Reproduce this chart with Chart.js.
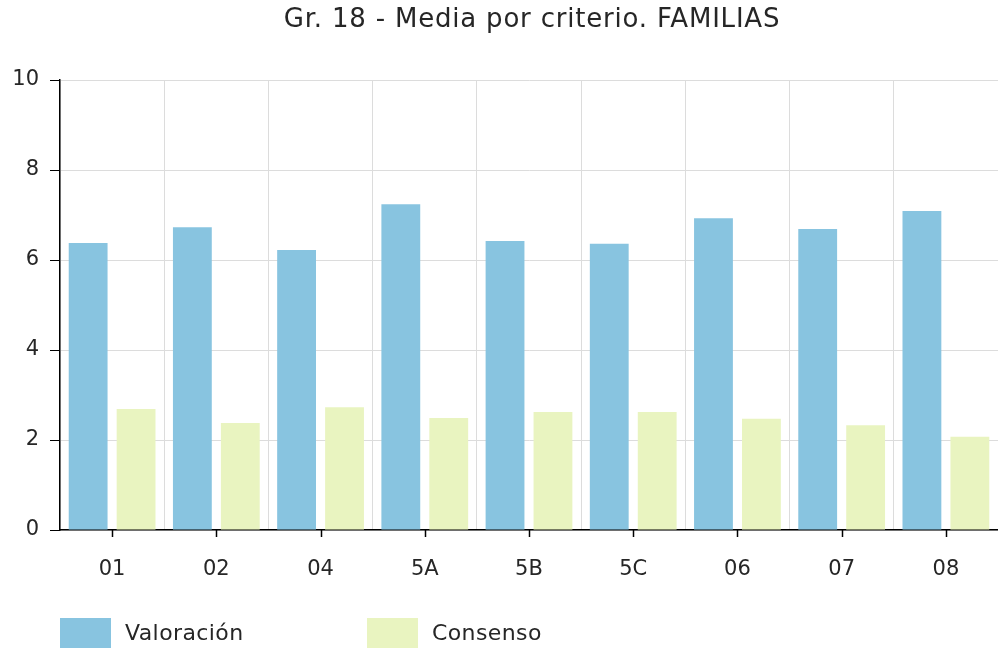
<!DOCTYPE html>
<html>
<head>
<meta charset="utf-8">
<script src="https://cdn.jsdelivr.net/npm/chart.js@4"></script>
<style>
  html, body { margin: 0; padding: 0; background: #fff; }
  #wrap { width: 998px; height: 648px; }
</style>
</head>
<body>
<div id="wrap"><canvas id="myChart" width="998" height="648"></canvas></div>
<script>
const chartTitle = "Gr. 18 - Media por criterio. FAMILIAS";
const criterios = ["01", "02", "04", "5A", "5B", "5C", "06", "07", "08"];
const valoracion = [6.38, 6.73, 6.22, 7.24, 6.42, 6.36, 6.93, 6.69, 7.09];
const consenso = [2.69, 2.38, 2.73, 2.49, 2.62, 2.62, 2.47, 2.33, 2.07];
const seriesNames = ["Valoración", "Consenso"];
const seriesColors = ["#88c4e0", "#e9f4c0"];

const FONT = "'DejaVu Sans'";
const TEXT = "#262626";

// title, x tick marks and legend drawn by hand
const decor = {
  id: "decor",
  afterDraw(chart) {
    const ctx = chart.ctx;
    const area = chart.chartArea;
    const x = chart.scales.x;
    ctx.save();

    ctx.fillStyle = TEXT;
    ctx.font = "26px " + FONT;
    ctx.letterSpacing = "0.8px";
    ctx.textAlign = "center";
    ctx.textBaseline = "middle";
    ctx.fillText(chartTitle, (area.left + area.right) / 2 + 3, 20);

    ctx.strokeStyle = "#000";
    ctx.lineWidth = 1.5;
    criterios.forEach((c, i) => {
      const px = Math.round(x.getPixelForValue(i)) + 0.5;
      ctx.beginPath();
      ctx.moveTo(px, area.bottom);
      ctx.lineTo(px, area.bottom + 7);
      ctx.stroke();
    });

    ctx.textAlign = "left";
    ctx.font = "22px " + FONT;
    ctx.letterSpacing = "0.4px";
    seriesNames.forEach((name, i) => {
      const lx = area.left + i * 307;
      ctx.fillStyle = seriesColors[i];
      ctx.fillRect(lx, 618, 51, 30);
      ctx.fillStyle = TEXT;
      ctx.fillText(name, lx + 65, 634);
    });
    ctx.restore();
  }
};

new Chart(document.getElementById("myChart"), {
  type: "bar",
  data: {
    labels: criterios,
    datasets: [
      { label: seriesNames[0], data: valoracion, backgroundColor: seriesColors[0] },
      { label: seriesNames[1], data: consenso, backgroundColor: seriesColors[1] }
    ]
  },
  options: {
    responsive: false,
    animation: false,
    layout: { padding: { top: 80, right: 0, bottom: 68, left: 0 } },
    categoryPercentage: 0.92,
    barPercentage: 0.81,
    plugins: {
      legend: { display: false },
      title: { display: false },
      tooltip: { enabled: false }
    },
    scales: {
      x: {
        grid: { offset: true, color: "#dcdcdc", drawTicks: false },
        border: { color: "#000", width: 1.5 },
        ticks: { color: TEXT, font: { family: FONT, size: 21 }, padding: 27 },
        afterFit(scale) { scale.height = 50; }
      },
      y: {
        min: 0,
        max: 10,
        ticks: { stepSize: 2, color: TEXT, font: { family: FONT, size: 21 }, padding: 11 },
        grid: { color: "#dcdcdc", tickColor: "#000", tickLength: 10 },
        border: { color: "#000", width: 1.5 },
        afterFit(scale) { scale.width = 60; }
      }
    }
  },
  plugins: [decor]
});
</script>
</body>
</html>
